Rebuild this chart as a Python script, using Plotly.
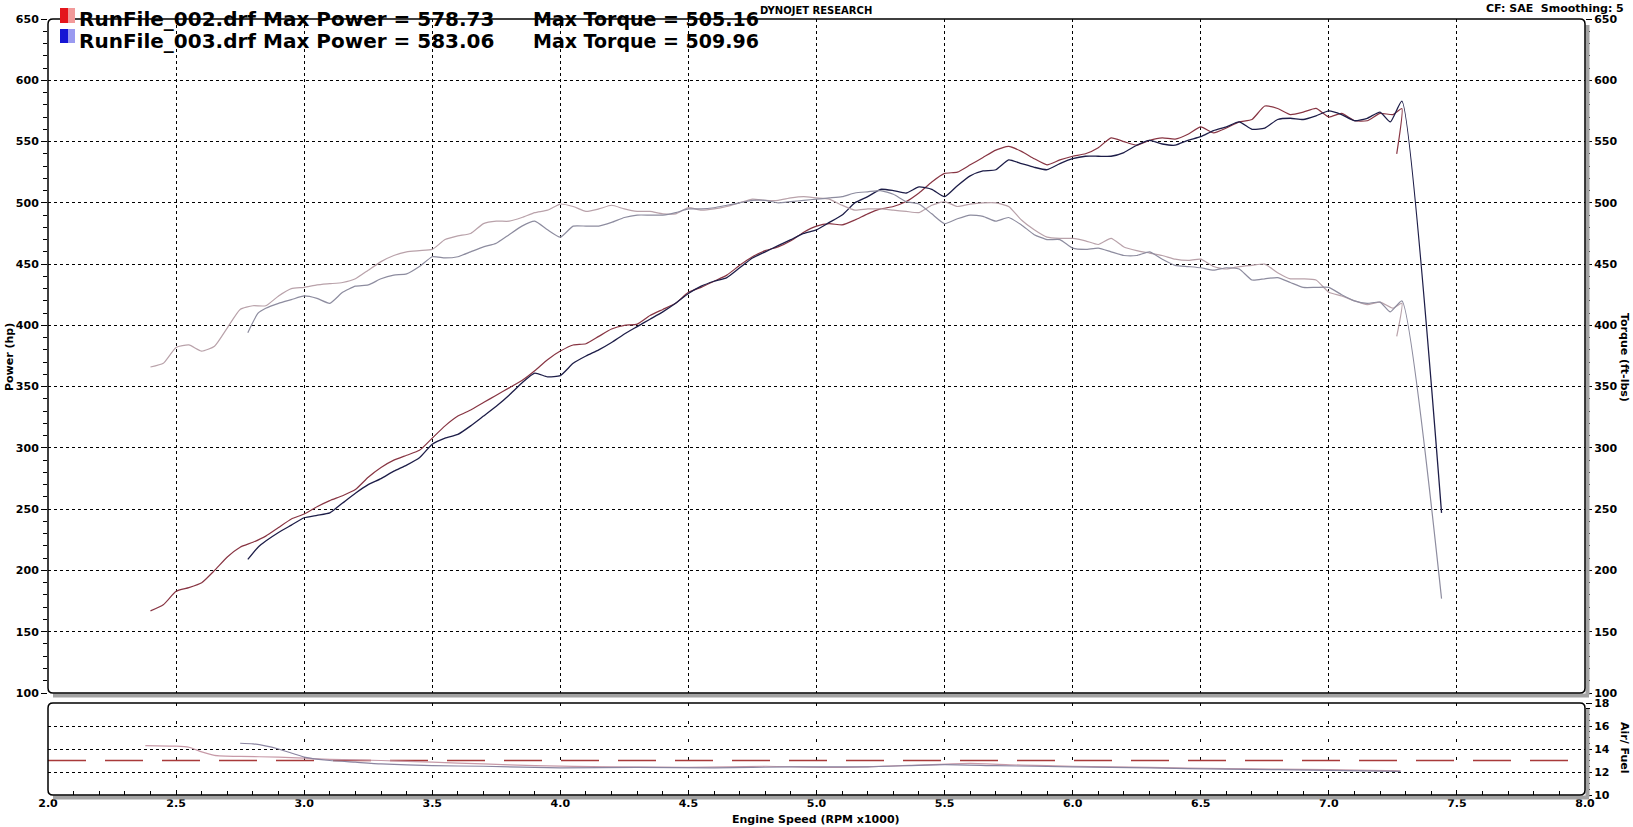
import plotly.graph_objects as go

# ---------------- data ----------------
rpm_002 = [2.40, 2.45, 2.50, 2.55, 2.60, 2.65, 2.70, 2.75, 2.80, 2.85, 2.90, 2.95,
           3.00, 3.05, 3.10, 3.15, 3.20, 3.25, 3.30, 3.35, 3.40, 3.45, 3.50, 3.55,
           3.60, 3.65, 3.70, 3.75, 3.80, 3.85, 3.90, 3.95, 4.00, 4.05, 4.10, 4.15,
           4.20, 4.25, 4.30, 4.35, 4.40, 4.45, 4.50, 4.55, 4.60, 4.65, 4.70, 4.75,
           4.80, 4.85, 4.90, 4.95, 5.00, 5.05, 5.10, 5.15, 5.20, 5.25, 5.30, 5.35,
           5.40, 5.45, 5.50, 5.55, 5.60, 5.65, 5.70, 5.75, 5.80, 5.85, 5.90, 5.95,
           6.00, 6.05, 6.10, 6.15, 6.20, 6.25, 6.30, 6.35, 6.40, 6.45, 6.50, 6.55,
           6.60, 6.65, 6.70, 6.75, 6.80, 6.85, 6.90, 6.95, 7.00, 7.05, 7.10, 7.15,
           7.20, 7.25, 7.285, 7.265]
power_002 = [167, 172, 183, 186, 190, 200, 211, 219, 223, 228, 235, 242,
             246, 252, 257, 261, 266, 276, 284, 290, 294, 298, 308, 318,
             326, 331, 337, 343, 349, 355, 363, 372, 379, 384, 385, 391,
             397, 400, 401, 408, 413, 418, 427, 431, 436, 441, 449, 456,
             461, 464, 469, 476, 481, 483, 482, 486, 491, 495, 497, 501,
             508, 517, 524, 525, 531, 537, 543, 546, 542, 536, 531, 535,
             538, 540, 545, 553, 550, 547, 551, 553, 552, 556, 562, 557,
             561, 566, 568, 579, 577, 572, 574, 577, 570, 573, 567, 567,
             573, 572, 577, 540]
torque_002 = [366, 369, 382, 384, 379, 383, 398, 413, 416, 416, 424, 430,
              431, 433, 434, 435, 438, 445, 452, 457, 460, 461, 462, 470,
              473, 475, 483, 485, 485, 488, 492, 494, 499, 497, 493, 495,
              498, 495, 493, 493, 491, 491, 496, 494, 495, 497, 500, 503,
              502, 502, 504, 505, 504, 503, 498, 494, 495, 495, 494, 493,
              492, 498, 501, 497, 499, 500, 500, 497, 486, 478, 472, 471,
              471, 469, 466, 471, 464, 461, 459, 457, 454, 453, 454, 448,
              446, 448, 449, 450, 443, 438, 438, 437, 427, 424, 420, 417,
              419, 414, 418, 391]

rpm_003 = [2.78, 2.82, 2.85, 2.90, 2.95,
           3.00, 3.05, 3.10, 3.15, 3.20, 3.25, 3.30, 3.35, 3.40, 3.45, 3.50, 3.55,
           3.60, 3.65, 3.70, 3.75, 3.80, 3.85, 3.90, 3.95, 4.00, 4.05, 4.10, 4.15,
           4.20, 4.25, 4.30, 4.35, 4.40, 4.45, 4.50, 4.55, 4.60, 4.65, 4.70, 4.75,
           4.80, 4.85, 4.90, 4.95, 5.00, 5.05, 5.10, 5.15, 5.20, 5.25, 5.30, 5.35,
           5.40, 5.45, 5.50, 5.55, 5.60, 5.65, 5.70, 5.75, 5.80, 5.85, 5.90, 5.95,
           6.00, 6.05, 6.10, 6.15, 6.20, 6.25, 6.30, 6.35, 6.40, 6.45, 6.50, 6.55,
           6.60, 6.65, 6.70, 6.75, 6.80, 6.85, 6.90, 6.95, 7.00, 7.05, 7.10, 7.15,
           7.20, 7.24, 7.285, 7.44]
power_003 = [209, 219, 224, 231, 237,
             243, 245, 247, 255, 263, 270, 275, 281, 286, 292, 303, 308,
             311, 318, 326, 334, 343, 353, 361, 358, 359, 369, 375, 380,
             386, 393, 399, 405, 411, 418, 426, 432, 436, 439, 447, 455,
             460, 465, 470, 475, 478, 484, 490, 500, 505, 511, 510, 508,
             513, 511, 505, 514, 522, 526, 527, 535, 532, 529, 527, 532,
             536, 538, 538, 538, 541, 547, 551, 548, 547, 551, 554, 559,
             562, 566, 560, 561, 568, 569, 568, 571, 575, 572, 567, 569,
             574, 566, 583, 247]
torque_003 = [394, 410, 414, 418, 421,
              424, 422, 418, 427, 432, 433, 438, 441, 442, 448, 456, 455,
              456, 460, 464, 467, 474, 481, 485, 478, 472, 481, 481, 481,
              484, 488, 490, 490, 490, 492, 495, 495, 496, 498, 500, 502,
              502, 500, 501, 502, 503, 504, 505, 508, 509, 510, 507, 501,
              499, 491, 483, 487, 490, 489, 485, 488, 482, 474, 470, 470,
              463, 462, 463, 460, 457, 457, 460, 454, 449, 448, 447, 445,
              447, 446, 437, 438, 439, 435, 431, 431, 431, 425, 420, 418,
              419, 411, 420, 177]

afr_rpm_002 = [2.38, 2.50, 2.55, 2.60, 2.65, 2.75, 2.90, 3.00, 3.10, 3.30, 3.50, 3.70,
               3.90, 4.20, 4.50, 4.80, 5.10, 5.40, 5.60, 5.80, 6.00, 6.30, 6.60, 7.00, 7.28]
afr_002 = [14.3, 14.25, 14.15, 13.75, 13.45, 13.35, 13.3, 13.2, 13.1, 13.0, 12.85, 12.7,
           12.55, 12.45, 12.4, 12.5, 12.4, 12.6, 12.75, 12.6, 12.5, 12.4, 12.3, 12.2, 12.1]
afr_rpm_003 = [2.75, 2.80, 2.90, 3.00, 3.10, 3.20, 3.30, 3.50, 3.70, 4.00, 4.30, 4.60,
               4.90, 5.20, 5.50, 5.70, 6.00, 6.30, 6.60, 7.00, 7.28]
afr_003 = [14.5, 14.45, 14.0, 13.3, 13.0, 12.85, 12.7, 12.55, 12.5, 12.35, 12.4, 12.35,
           12.45, 12.45, 12.65, 12.55, 12.45, 12.35, 12.25, 12.15, 12.05]
afr_target = 13.0

legend_rows = [("RunFile_002.drf Max Power = 578.73", "Max Torque = 505.16"),
               ("RunFile_003.drf Max Power = 583.06", "Max Torque = 509.96")]

# ---------------- geometry helpers (pixels -> paper) ----------------
W, H = 1633, 827
L, R, T, B = 48, 1585, 19, 795
MAIN_BOTTOM = 693
SUB_TOP = 703


def fx(p):
    return (p - L) / (R - L)


def fy(p):
    return (B - p) / (B - T)


def rrect(x0, y0, x1, y1, r):
    return (f"M {fx(x0 + r)},{fy(y0)} L {fx(x1 - r)},{fy(y0)} "
            f"Q {fx(x1)},{fy(y0)} {fx(x1)},{fy(y0 + r)} L {fx(x1)},{fy(y1 - r)} "
            f"Q {fx(x1)},{fy(y1)} {fx(x1 - r)},{fy(y1)} L {fx(x0 + r)},{fy(y1)} "
            f"Q {fx(x0)},{fy(y1)} {fx(x0)},{fy(y1 - r)} L {fx(x0)},{fy(y0 + r)} "
            f"Q {fx(x0)},{fy(y0)} {fx(x0 + r)},{fy(y0)} Z")


FONT = "DejaVu Sans"

fig = go.Figure()

ln = dict(shape="spline", smoothing=0.5)
fig.add_trace(go.Scatter(x=rpm_002, y=torque_002, mode="lines", yaxis="y2",
                         line=dict(color="#b9a2aa", width=1.2, **ln), showlegend=False))
fig.add_trace(go.Scatter(x=rpm_003, y=torque_003, mode="lines", yaxis="y2",
                         line=dict(color="#8d8c9f", width=1.2, **ln), showlegend=False))
fig.add_trace(go.Scatter(x=rpm_002, y=power_002, mode="lines", yaxis="y",
                         line=dict(color="#883543", width=1.2, **ln), showlegend=False))
fig.add_trace(go.Scatter(x=rpm_003, y=power_003, mode="lines", yaxis="y",
                         line=dict(color="#1d1d48", width=1.3, **ln), showlegend=False))

# Air/fuel subplot
fig.add_trace(go.Scatter(x=[2.0, 8.0], y=[afr_target, afr_target], mode="lines",
                         xaxis="x2", yaxis="y3",
                         line=dict(color="#a83a3a", width=1.5, dash="38px,19px"),
                         showlegend=False))
fig.add_trace(go.Scatter(x=afr_rpm_002, y=afr_002, mode="lines", xaxis="x2", yaxis="y3",
                         line=dict(color="#c79aa8", width=1.2, **ln), showlegend=False))
fig.add_trace(go.Scatter(x=afr_rpm_003, y=afr_003, mode="lines", xaxis="x2", yaxis="y3",
                         line=dict(color="#8a84a0", width=1.2, **ln), showlegend=False))

main_dom = [fy(MAIN_BOTTOM), 1.0]
sub_dom = [0.0, fy(SUB_TOP)]
tickfont = dict(family=FONT, size=11, color="black", weight="bold")

fig.update_layout(
    width=W, height=H,
    margin=dict(l=L, r=W - R, t=T, b=H - B),
    paper_bgcolor="white", plot_bgcolor="white",
    xaxis=dict(domain=[0, 1], anchor="y", range=[2.0, 8.0], dtick=0.5,
               showticklabels=False, ticks="", showgrid=True, gridcolor="black",
               gridwidth=1, griddash="3px,3px", zeroline=False, showline=False),
    xaxis2=dict(domain=[0, 1], anchor="y3", matches="x", range=[2.0, 8.0], dtick=0.5,
                tickformat=".1f", tickfont=tickfont, ticks="inside", ticklen=5,
                tickcolor="black", minor=dict(dtick=0.1, ticks="inside", ticklen=4,
                                              tickcolor="black", showgrid=False),
                showgrid=True, gridcolor="black", gridwidth=1, griddash="3px,15px",
                zeroline=False, showline=False),
    yaxis=dict(domain=main_dom, anchor="x", range=[100, 650], dtick=50,
               tickfont=tickfont, ticks="outside", ticklen=6, tickcolor="black",
               minor=dict(dtick=10, ticks="outside", ticklen=4, tickcolor="black",
                          showgrid=False),
               showgrid=True, gridcolor="black", gridwidth=1, griddash="3px,3px",
               zeroline=False, showline=False),
    yaxis2=dict(overlaying="y", side="right", anchor="x", range=[100, 650], dtick=50,
                tickfont=tickfont, ticks="outside", ticklen=6, tickcolor="black",
                minor=dict(dtick=10, ticks="outside", ticklen=4, tickcolor="black",
                           showgrid=False),
                showgrid=False, zeroline=False, showline=False),
    yaxis3=dict(domain=sub_dom, anchor="x2", side="right", range=[10, 18], dtick=2,
                tickfont=tickfont, ticks="outside", ticklen=6, tickcolor="black",
                minor=dict(dtick=0.5, ticks="outside", ticklen=4, tickcolor="black",
                           showgrid=False),
                showgrid=True, gridcolor="black", gridwidth=1, griddash="3px,3px",
                zeroline=False, showline=False),
)

shapes = []
grey = "#a3a3a3"
# drop shadows (right and bottom)
for (x0, y0, x1, y1) in [(L, T, R, MAIN_BOTTOM), (L, SUB_TOP, R, B)]:
    shapes.append(dict(type="line", xref="paper", yref="paper",
                       x0=fx(x1 + 2.5), x1=fx(x1 + 2.5), y0=fy(y0 + 6), y1=fy(y1 + 2),
                       line=dict(color=grey, width=4)))
    shapes.append(dict(type="line", xref="paper", yref="paper",
                       x0=fx(x0 + 5), x1=fx(x1 + 4), y0=fy(y1 + 2.5), y1=fy(y1 + 2.5),
                       line=dict(color=grey, width=4)))
    shapes.append(dict(type="path", xref="paper", yref="paper",
                       path=rrect(x0, y0, x1, y1, 5),
                       line=dict(color="black", width=1.5)))

# legend colour chips
chip_rows = [(8, 23, "#e4161c", "#f29a9a"), (29, 43, "#1616d4", "#9a9af0")]
for (y0, y1, c_dark, c_light) in chip_rows:
    shapes.append(dict(type="rect", xref="paper", yref="paper",
                       x0=fx(60), x1=fx(68), y0=fy(y1), y1=fy(y0),
                       fillcolor=c_dark, line=dict(width=0)))
    shapes.append(dict(type="rect", xref="paper", yref="paper",
                       x0=fx(68), x1=fx(75), y0=fy(y1), y1=fy(y0),
                       fillcolor=c_light, line=dict(width=0)))
fig.update_layout(shapes=shapes)

ann = []
big_l = dict(family=FONT, size=20, color="black", weight="bold")
big_r = dict(family=FONT, size=19, color="black", weight="bold")
small = dict(family=FONT, size=10, color="black", weight="bold")
for (row_y, (left_txt, right_txt)) in zip([19, 41], legend_rows):
    ann.append(dict(text=left_txt, x=fx(77), y=fy(row_y), xref="paper", yref="paper",
                    xanchor="left", yanchor="middle", showarrow=False, font=big_l))
    ann.append(dict(text=right_txt, x=fx(531), y=fy(row_y), xref="paper", yref="paper",
                    xanchor="left", yanchor="middle", showarrow=False, font=big_r))
ann.append(dict(text="DYNOJET RESEARCH", x=fx(816), y=fy(10), xref="paper", yref="paper",
                xanchor="center", yanchor="middle", showarrow=False, font=small))
ann.append(dict(text="CF: SAE  Smoothing: 5", x=fx(1626), y=fy(8), xref="paper",
                yref="paper", xanchor="right", yanchor="middle", showarrow=False,
                font=dict(family=FONT, size=11, color="black", weight="bold")))
ann.append(dict(text="Power (hp)", x=fx(9), y=fy(357), xref="paper", yref="paper",
                xanchor="center", yanchor="middle", textangle=-90, showarrow=False,
                font=dict(family=FONT, size=11, color="black", weight="bold")))
ann.append(dict(text="Torque (ft-lbs)", x=fx(1625), y=fy(357), xref="paper", yref="paper",
                xanchor="center", yanchor="middle", textangle=90, showarrow=False,
                font=dict(family=FONT, size=11, color="black", weight="bold")))
ann.append(dict(text="Air/ Fuel", x=fx(1625), y=fy(748), xref="paper", yref="paper",
                xanchor="center", yanchor="middle", textangle=90, showarrow=False,
                font=dict(family=FONT, size=11, color="black", weight="bold")))
ann.append(dict(text="Engine Speed (RPM x1000)", x=fx(816), y=fy(820), xref="paper",
                yref="paper", xanchor="center", yanchor="middle", showarrow=False,
                font=dict(family=FONT, size=11, color="black", weight="bold")))
fig.update_layout(annotations=ann)

fig.write_html("out.html")
